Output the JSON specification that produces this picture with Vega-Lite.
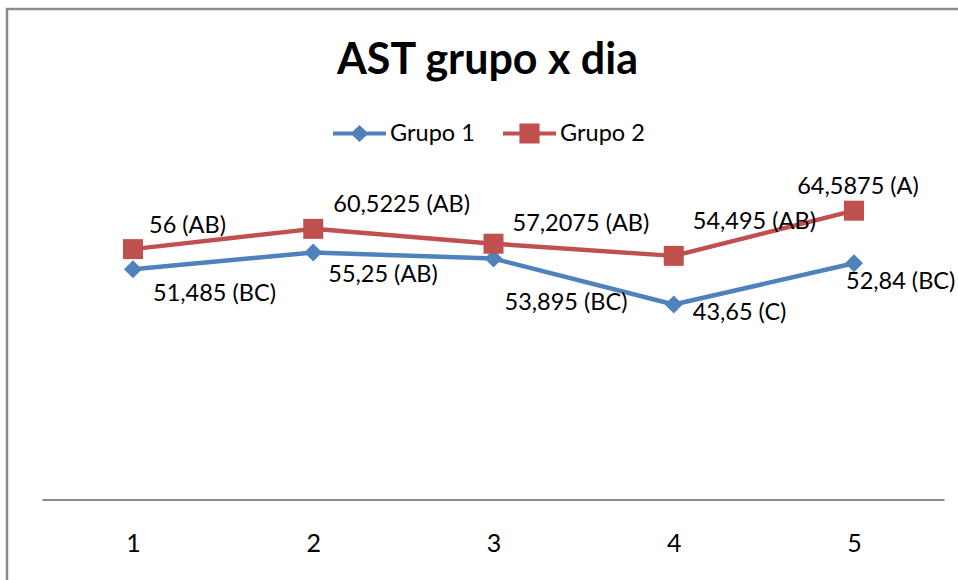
{
  "$schema": "https://vega.github.io/schema/vega-lite/v6.json",
  "autosize": {"type": "none"},
  "padding": {"left": 7, "top": 9, "right": 0, "bottom": 0},
  "width": 973,
  "height": 591,
  "background": "white",
  "config": {
    "view": {"stroke": "#8c8c8c", "strokeWidth": 2.5},
    "font": "Lato",
    "text": {"font": "Lato", "fontSize": 23.5, "color": "#000000", "align": "left", "baseline": "middle"},
    "axisX": {
      "offset": -100,
      "domain": false,
      "ticks": false,
      "tickSize": 0,
      "grid": false,
      "labelFont": "Lato",
      "labelFontSize": 25,
      "labelColor": "#000000",
      "labelBaseline": "middle",
      "labelPadding": 43
    }
  },
  "title": {
    "text": "AST grupo x dia",
    "font": "Lato",
    "fontSize": 43,
    "fontWeight": "bold",
    "color": "#000000",
    "anchor": "middle",
    "frame": "group",
    "offset": -108,
    "baseline": "alphabetic",
    "dx": -6
  },
  "data": {
    "values": [
      {"dia": 1, "grupo": "Grupo 1", "valor": 51.485, "rotulo": "51,485 (BC)"},
      {"dia": 2, "grupo": "Grupo 1", "valor": 55.25, "rotulo": "55,25 (AB)"},
      {"dia": 3, "grupo": "Grupo 1", "valor": 53.895, "rotulo": "53,895 (BC)"},
      {"dia": 4, "grupo": "Grupo 1", "valor": 43.65, "rotulo": "43,65 (C)"},
      {"dia": 5, "grupo": "Grupo 1", "valor": 52.84, "rotulo": "52,84 (BC)"},
      {"dia": 1, "grupo": "Grupo 2", "valor": 56, "rotulo": "56 (AB)"},
      {"dia": 2, "grupo": "Grupo 2", "valor": 60.5225, "rotulo": "60,5225 (AB)"},
      {"dia": 3, "grupo": "Grupo 2", "valor": 57.2075, "rotulo": "57,2075 (AB)"},
      {"dia": 4, "grupo": "Grupo 2", "valor": 54.495, "rotulo": "54,495 (AB)"},
      {"dia": 5, "grupo": "Grupo 2", "valor": 64.5875, "rotulo": "64,5875 (A)"}
    ]
  },
  "encoding": {
    "x": {
      "field": "dia",
      "type": "quantitative",
      "scale": {"domain": [0.301, 5.699], "nice": false, "zero": false},
      "axis": {"title": null, "values": [1, 2, 3, 4, 5], "format": "d"}
    },
    "y": {
      "field": "valor",
      "type": "quantitative",
      "scale": {"domain": [-22.32, 109.6], "nice": false, "zero": false},
      "axis": null
    }
  },
  "layer": [
    {
      "mark": {"type": "line", "strokeWidth": 4.5, "strokeJoin": "round"},
      "encoding": {
        "color": {
          "field": "grupo",
          "type": "nominal",
          "scale": {"domain": ["Grupo 1", "Grupo 2"], "range": ["#4F81BD", "#C0504D"]},
          "legend": {
            "orient": "none",
            "legendX": 326,
            "legendY": 98,
            "direction": "horizontal",
            "title": null,
            "padding": 0,
            "symbolSize": 2809,
            "symbolStrokeWidth": 0,
            "labelFont": "Lato",
            "labelFontSize": 23.5,
            "labelColor": "#000000",
            "labelOffset": 4,
            "columnPadding": 28,
            "encode": {
              "symbols": {
                "update": {
                  "shape": [
                    {"test": "datum.value === 'Grupo 1'", "value": "M-1,-0.075L1,-0.075L1,0.075L-1,0.075Z M-0.34,0L0,-0.32L0.34,0L0,0.32Z"},
                    {"value": "M-1,-0.075L1,-0.075L1,0.075L-1,0.075Z M-0.38,-0.38L0.38,-0.38L0.38,0.38L-0.38,0.38Z"}
                  ],
                  "fill": [
                    {"test": "datum.value === 'Grupo 1'", "value": "#4F81BD"},
                    {"value": "#C0504D"}
                  ],
                  "stroke": {"value": "transparent"},
                  "size": {"value": 2809}
                }
              }
            }
          }
        }
      }
    },
    {
      "mark": {"type": "rule", "color": "#8c8c8c", "strokeWidth": 1.2},
      "encoding": {
        "x": {"datum": 0.5, "type": "quantitative", "axis": {"title": null, "values": [1, 2, 3, 4, 5], "format": "d"}},
        "x2": {"datum": 5.5},
        "y": {"datum": 0, "type": "quantitative", "axis": null}
      }
    },
    {
      "transform": [{"filter": "datum.grupo === 'Grupo 1'"}],
      "mark": {"type": "point", "shape": "diamond", "filled": true, "size": 324, "color": "#4F81BD", "opacity": 1}
    },
    {
      "transform": [{"filter": "datum.grupo === 'Grupo 2'"}],
      "mark": {"type": "point", "shape": "square", "filled": true, "size": 400, "color": "#C0504D", "opacity": 1}
    },
    {"transform": [{"filter": "datum.grupo === 'Grupo 1' && datum.dia === 1"}], "mark": {"type": "text", "dx": 20, "dy": 25}, "encoding": {"text": {"field": "rotulo"}}},
    {"transform": [{"filter": "datum.grupo === 'Grupo 1' && datum.dia === 2"}], "mark": {"type": "text", "dx": 15, "dy": 23}, "encoding": {"text": {"field": "rotulo"}}},
    {"transform": [{"filter": "datum.grupo === 'Grupo 1' && datum.dia === 3"}], "mark": {"type": "text", "dx": 11, "dy": 44}, "encoding": {"text": {"field": "rotulo"}}},
    {"transform": [{"filter": "datum.grupo === 'Grupo 1' && datum.dia === 4"}], "mark": {"type": "text", "dx": 19, "dy": 9}, "encoding": {"text": {"field": "rotulo"}}},
    {"transform": [{"filter": "datum.grupo === 'Grupo 1' && datum.dia === 5"}], "mark": {"type": "text", "dx": -8, "dy": 19}, "encoding": {"text": {"field": "rotulo"}}},
    {"transform": [{"filter": "datum.grupo === 'Grupo 2' && datum.dia === 1"}], "mark": {"type": "text", "dx": 16, "dy": -23}, "encoding": {"text": {"field": "rotulo"}}},
    {"transform": [{"filter": "datum.grupo === 'Grupo 2' && datum.dia === 2"}], "mark": {"type": "text", "dx": 20, "dy": -24}, "encoding": {"text": {"field": "rotulo"}}},
    {"transform": [{"filter": "datum.grupo === 'Grupo 2' && datum.dia === 3"}], "mark": {"type": "text", "dx": 19, "dy": -20}, "encoding": {"text": {"field": "rotulo"}}},
    {"transform": [{"filter": "datum.grupo === 'Grupo 2' && datum.dia === 4"}], "mark": {"type": "text", "dx": 19, "dy": -34}, "encoding": {"text": {"field": "rotulo"}}},
    {"transform": [{"filter": "datum.grupo === 'Grupo 2' && datum.dia === 5"}], "mark": {"type": "text", "align": "center", "dx": 4, "dy": -24}, "encoding": {"text": {"field": "rotulo"}}}
  ]
}
